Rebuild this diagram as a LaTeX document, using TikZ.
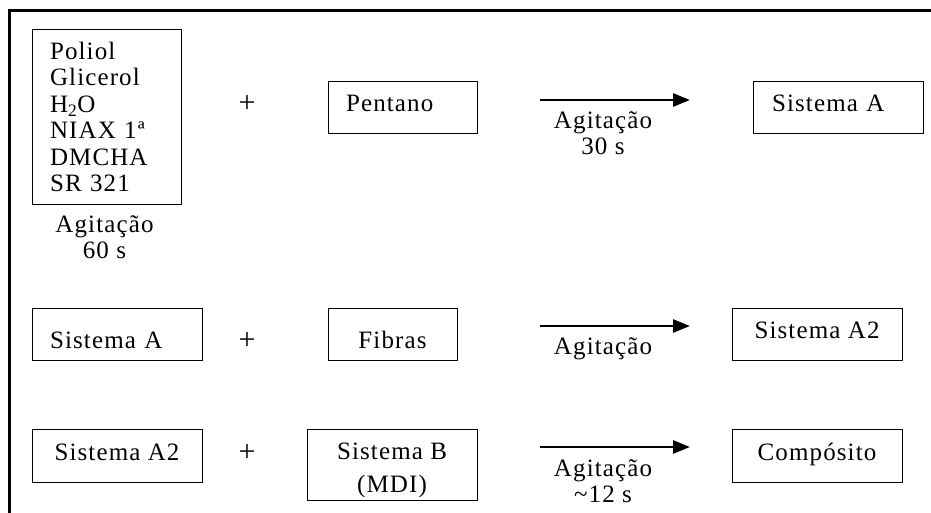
\documentclass[tikz,border=0pt]{standalone}
\usepackage{fontspec}
\setmainfont{Liberation Serif}[LetterSpace=4.5]
\usetikzlibrary{arrows.meta}
\begin{document}
\begin{tikzpicture}[x=1pt,y=-1pt,
  bx/.style={draw, line width=1pt, inner xsep=0pt, inner ysep=0pt,
    font=\fontsize{25}{26.5}\selectfont},
  lbl/.style={inner sep=0pt, anchor=north, align=center,
    font=\fontsize{25}{26.5}\selectfont},
  plus/.style={inner sep=0pt, font=\fontsize{30}{30}\selectfont},
  arr/.style={line width=2.6pt, -{Triangle[length=17pt,width=13pt]}}]
\useasboundingbox (0,0) rectangle (931,513);
% frame
\draw[line width=3pt, line join=miter] (9.5,513) -- (9.5,11) -- (931,11);

% ---- row 1
\node[bx, minimum width=149pt, minimum height=174pt, text width=113pt, align=left]
  (p1) at (106.5,117) {Poliol\\Glicerol\\H\textsubscript{2}O\\NIAX 1ª\\DMCHA\\SR 321};
\node[lbl] (l0) at (104.5,212) {\rule{0pt}{20pt}Agitação\\60 s};
\node[plus] (s1) at (247,104) {+};
\node[bx, minimum width=149pt, minimum height=52pt, text width=113pt, align=left,
  text height=16pt, text depth=8pt] (pent) at (402.5,108) {Pentano};
\coordinate (a1s) at (540,100);
\coordinate (a1e) at (690,100);
\draw[arr] (a1s) -- (a1e);
\node[lbl] (l1) at (603,108) {\rule{0pt}{20pt}Agitação\\30 s};
\node[bx, minimum width=170pt, minimum height=52pt, text width=132pt, align=left,
  text height=16pt, text depth=8pt] (sa1) at (838,108) {Sistema A};

% ---- row 2
\node[bx, minimum width=170pt, minimum height=52pt, text width=134pt, align=left,
  text height=28pt, text depth=0pt] (sa2) at (117,334) {Sistema A};
\node[plus] (s2) at (247,341) {+};
\node[bx, minimum width=129pt, minimum height=52pt,
  text height=28pt, text depth=0pt] (fib) at (392.5,334) {Fibras};
\coordinate (a2s) at (540,326);
\coordinate (a2e) at (690,326);
\draw[arr] (a2s) -- (a2e);
\node[lbl] (l2) at (603,334) {\rule{0pt}{20pt}Agitação};
\node[bx, minimum width=170pt, minimum height=52pt,
  text height=16pt, text depth=8pt] (sb2) at (817,334) {Sistema A2};

% ---- row 3
\node[bx, minimum width=170pt, minimum height=53pt,
  text height=16pt, text depth=7pt] (sa3) at (117,455.5) {Sistema A2};
\node[plus] (s3) at (247,453) {+};
\node[bx, minimum width=170pt, minimum height=71pt, align=center,
  font=\fontsize{25}{33}\selectfont] (sysb) at (392,464.5)
  {\rule{0pt}{29pt}Sistema B\\(MDI)};
\coordinate (a3s) at (540,447);
\coordinate (a3e) at (690,447);
\draw[arr] (a3s) -- (a3e);
\node[lbl] (l3) at (603,456) {\rule{0pt}{20pt}Agitação\\\textasciitilde12 s};
\node[bx, minimum width=170pt, minimum height=53pt,
  text height=16pt, text depth=7pt] (comp) at (817,455.5) {Compósito};
\end{tikzpicture}
\end{document}
